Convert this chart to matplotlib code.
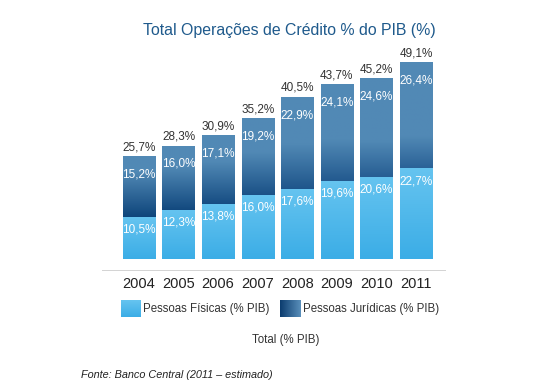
import numpy as np
import matplotlib
matplotlib.use("Agg")
import matplotlib.pyplot as plt
from matplotlib.colors import LinearSegmentedColormap, to_rgb

plt.rcParams['font.family'] = ['Liberation Sans', 'DejaVu Sans']

years = ['2004', '2005', '2006', '2007', '2008', '2009', '2010', '2011']
pf = [10.5, 12.3, 13.8, 16.0, 17.6, 19.6, 20.6, 22.7]
pj = [15.2, 16.0, 17.1, 19.2, 22.9, 24.1, 24.6, 26.4]
total = [25.7, 28.3, 30.9, 35.2, 40.5, 43.7, 45.2, 49.1]

pf_labels = ['10,5%', '12,3%', '13,8%', '16,0%', '17,6%', '19,6%', '20,6%', '22,7%']
pj_labels = ['15,2%', '16,0%', '17,1%', '19,2%', '22,9%', '24,1%', '24,6%', '26,4%']
total_labels = ['25,7%', '28,3%', '30,9%', '35,2%', '40,5%', '43,7%', '45,2%', '49,1%']

W, H = 560, 385
fig = plt.figure(figsize=(W / 100, H / 100), dpi=100)
fig.patch.set_facecolor('white')

# axes placed in pixel coords: x 102..446, y 40..271
ax = fig.add_axes([102 / W, (H - 271) / H, (446 - 102) / W, (271 - 40) / H])

pf_cmap = LinearSegmentedColormap.from_list('pf', ['#3badE6', '#66c4f0'])
grad = np.linspace(0, 1, 256).reshape(-1, 1)

def mix(c1, c2, t):
    a, b = np.array(to_rgb(c1)), np.array(to_rgb(c2))
    return tuple(a + (b - a) * t)

x = np.arange(len(years))
width = 0.81
n = len(years)
for i in range(n):
    t = i / (n - 1)
    bottom = mix('#0e457b', '#2b6297', t)
    span = 0.75 - 0.45 * t
    pj_cmap = LinearSegmentedColormap.from_list('pj%d' % i, [(0, bottom), (span, '#5189b5'), (1, '#5289b6')])
    x0, x1 = x[i] - width / 2, x[i] + width / 2
    ax.imshow(grad, extent=[x0, x1, 0, pf[i]], origin='lower', aspect='auto', cmap=pf_cmap, zorder=2)
    ax.imshow(grad, extent=[x0, x1, pf[i], total[i]], origin='lower', aspect='auto', cmap=pj_cmap, zorder=2)
    ax.text(x[i], pf[i] - 3.2, pf_labels[i], ha='center', va='center', color='white', fontsize=8.5, zorder=3)
    ax.text(x[i], total[i] - 4.5, pj_labels[i], ha='center', va='center', color='white', fontsize=8.5, zorder=3)
    ax.text(x[i], total[i] + 0.8, total_labels[i], ha='center', va='bottom', color='#333333', fontsize=8.5, zorder=3)

ax.set_xlim(-0.934, 7.76)
ax.set_ylim(-3, 54.75)
ax.axhline(-3, color='#cccccc', lw=1.2, zorder=1)
for s in ax.spines.values():
    s.set_visible(False)
ax.set_yticks([])
ax.set_xticks(x)
ax.set_xticklabels(years, fontsize=10.5, color='#222222')
ax.tick_params(axis='x', length=0, pad=4)

fig.text(289 / W, 1 - 30 / H, 'Total Operações de Crédito % do PIB (%)', ha='center', va='center',
         fontsize=11.4, color='#1f5a8c')

# legend
lg1 = fig.add_axes([121 / W, (H - 317) / H, 20 / W, 17 / H])
lg1.imshow(grad, cmap=pf_cmap, aspect='auto', origin='lower')
lg1.axis('off')
lg2 = fig.add_axes([280 / W, (H - 317) / H, 21 / W, 17 / H])
lg2.imshow(grad.T, cmap=LinearSegmentedColormap.from_list('pjl', ['#0b3c6e', '#5a8fbb']), aspect='auto')
lg2.axis('off')
fig.text(143 / W, 1 - 309 / H, 'Pessoas Físicas (% PIB)', ha='left', va='center', fontsize=8.3, color='#333333')
fig.text(303 / W, 1 - 309 / H, 'Pessoas Jurídicas (% PIB)', ha='left', va='center', fontsize=8.3, color='#333333')
fig.text(286 / W, 1 - 340 / H, 'Total (% PIB)', ha='center', va='center', fontsize=8.3, color='#333333')

fig.text(81 / W, 1 - 375 / H, 'Fonte: Banco Central (2011 – estimado)', ha='left', va='center',
         fontsize=7.8, style='italic', color='#222222')

fig.savefig('out.png', dpi=100)
